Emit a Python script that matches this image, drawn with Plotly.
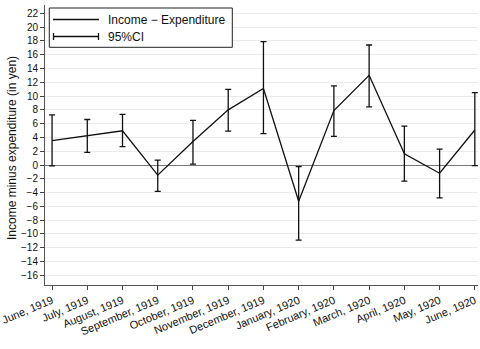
import plotly.graph_objects as go

months = ["June, 1919", "July, 1919", "August, 1919", "September, 1919", "October, 1919",
          "November, 1919", "December, 1919", "January, 1920", "February, 1920",
          "March, 1920", "April, 1920", "May, 1920", "June, 1920"]
mean = [3.55, 4.2, 4.96, -1.47, 3.4, 8.0, 11.1, -5.25, 7.9, 13.0, 1.63, -1.2, 5.07]
upper = [7.28, 6.6, 7.33, 0.7, 6.48, 10.97, 17.9, -0.24, 11.48, 17.4, 5.65, 2.3, 10.48]
lower = [-0.14, 1.84, 2.65, -3.83, 0.14, 4.92, 4.54, -10.9, 4.16, 8.42, -2.34, -4.78, -0.1]
yticks = list(range(-16, 23, 2))

W, H = 480, 349
L, R, T, B = 45, 2, 5, 64
pw, ph = W - L - R, H - T - B

def px(x):
    return (x - L) / pw

def py(y):
    return (H - B - y) / ph

FONT = "Liberation Sans, Arial, Helvetica, sans-serif"

fig = go.Figure()
fig.add_trace(go.Scatter(
    x=list(range(len(months))), y=mean, mode="lines",
    line=dict(color="#111111", width=1.3),
    error_y=dict(type="data", symmetric=False,
                 array=[u - m for u, m in zip(upper, mean)],
                 arrayminus=[m - l for m, l in zip(mean, lower)],
                 color="#111111", thickness=1.3, width=3),
    showlegend=False, hoverinfo="skip"))

fig.update_layout(
    width=W, height=H,
    margin=dict(l=L, r=R, t=T, b=B, autoexpand=False),
    paper_bgcolor="white", plot_bgcolor="white",
    font=dict(family=FONT, color="#111111"),
    showlegend=False,
)
fig.update_xaxes(
    range=[-0.2, 12.09], automargin=False, ticklabeloverflow="allow",
    tickvals=list(range(len(months))), ticktext=months,
    tickangle=-23, tickfont=dict(size=11),
    ticks="outside", ticklen=4, tickcolor="#444444",
    showgrid=False, zeroline=False,
    showline=True, linecolor="#555555", linewidth=1,
)
fig.update_yaxes(
    range=[-17.4, 23.2], automargin=False,
    tickvals=yticks,
    tickfont=dict(size=10),
    ticks="outside", ticklen=4, tickcolor="#444444",
    showgrid=True, gridcolor="#ebebeb", gridwidth=1,
    zeroline=True, zerolinecolor="#777777", zerolinewidth=1.3,
    showline=True, linecolor="#555555", linewidth=1,
)

fig.add_annotation(xref="paper", yref="paper", x=px(12), y=py(148),
                   text="Income minus expenditure (in yen)", textangle=-90,
                   showarrow=False, xanchor="center", yanchor="middle",
                   font=dict(size=12, family=FONT))

# custom legend box
shapes = [
    dict(type="rect", xref="paper", yref="paper",
         x0=px(49.3), x1=px(232.3), y0=py(47.3), y1=py(8),
         line=dict(color="#222222", width=1), fillcolor="white", layer="above"),
    dict(type="line", xref="paper", yref="paper",
         x0=px(53), x1=px(99), y0=py(19.5), y1=py(19.5),
         line=dict(color="#111111", width=1.3)),
    dict(type="line", xref="paper", yref="paper",
         x0=px(53.5), x1=px(98.5), y0=py(36.5), y1=py(36.5),
         line=dict(color="#111111", width=1.3)),
    dict(type="line", xref="paper", yref="paper",
         x0=px(53.5), x1=px(53.5), y0=py(33), y1=py(40),
         line=dict(color="#111111", width=1.3)),
    dict(type="line", xref="paper", yref="paper",
         x0=px(98.5), x1=px(98.5), y0=py(33), y1=py(40),
         line=dict(color="#111111", width=1.3)),
]
fig.update_layout(shapes=shapes)
fig.add_annotation(xref="paper", yref="paper", x=px(106), y=py(19.5),
                   text="Income − Expenditure", showarrow=False,
                   xanchor="left", yanchor="middle", font=dict(size=12, family=FONT))
fig.add_annotation(xref="paper", yref="paper", x=px(106), y=py(36.5),
                   text="95%CI", showarrow=False,
                   xanchor="left", yanchor="middle", font=dict(size=12, family=FONT))

fig.write_html("out.html", config={"displayModeBar": False},
               post_script="document.body.style.margin='0';document.body.style.padding='0';")
